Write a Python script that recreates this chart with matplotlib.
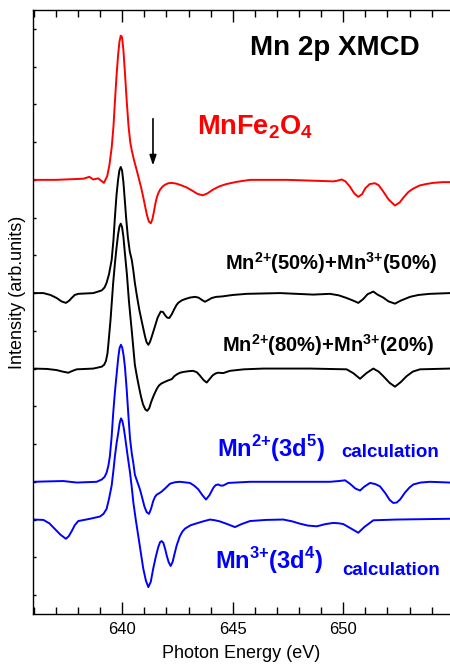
import matplotlib
matplotlib.use('Agg')
import matplotlib.pyplot as plt
from matplotlib.ticker import MultipleLocator

plt.rcParams['font.family'] = ['Liberation Sans', 'DejaVu Sans']
plt.rcParams['mathtext.fontset'] = 'custom'
plt.rcParams['mathtext.rm'] = 'Liberation Sans'
plt.rcParams['mathtext.bf'] = 'Liberation Sans:bold'

# (photon energy eV, intensity relative to own baseline)

# MnFe2O4 measured XMCD (red)
mnfe2o4 = [
    (635.97, 0.0), (637.0, 0.0), (638.24, 0.03), (638.51, 0.08), (638.69, 0.01),
    (638.91, 0.04), (639.17, -0.08), (639.32, 0.1), (639.42, 0.4), (639.52, 0.85),
    (639.60, 1.4), (639.67, 2.1), (639.74, 2.75), (639.81, 3.3), (639.87, 3.65),
    (639.93, 3.82), (639.99, 3.78), (640.05, 3.45), (640.12, 2.85), (640.20, 2.1),
    (640.28, 1.45), (640.36, 1.0), (640.43, 0.78), (640.52, 0.55), (640.62, 0.33),
    (640.70, 0.15), (640.77, -0.01), (640.86, -0.22), (640.95, -0.46), (641.04, -0.72),
    (641.12, -0.94), (641.20, -1.1), (641.29, -1.15), (641.36, -1.05), (641.43, -0.85),
    (641.50, -0.62), (641.57, -0.45), (641.64, -0.34), (641.71, -0.26), (641.82, -0.18),
    (641.93, -0.13), (642.08, -0.09), (642.24, -0.08), (642.45, -0.1), (642.70, -0.15),
    (642.91, -0.2), (643.15, -0.28), (643.40, -0.37), (643.64, -0.41), (643.85, -0.36),
    (644.10, -0.26), (644.40, -0.17), (644.72, -0.11), (645.20, -0.05), (645.78, 0.0),
    (647.50, 0.0), (649.55, -0.04), (649.75, -0.02), (649.93, 0.01), (650.10, -0.04),
    (650.30, -0.18), (650.50, -0.36), (650.68, -0.45), (650.85, -0.38), (651.00, -0.22),
    (651.20, -0.11), (651.43, -0.09), (651.60, -0.14), (651.80, -0.3), (652.05, -0.52),
    (652.34, -0.68), (652.55, -0.6), (652.75, -0.45), (652.95, -0.32), (653.17, -0.23),
    (653.45, -0.15), (653.75, -0.11), (654.07, -0.08), (654.50, -0.06), (654.83, -0.06),
]

# Mn2+(50%)+Mn3+(50%)
mix50 = [
    (635.97, 0.0), (636.43, 0.0), (636.75, -0.05), (637.03, -0.13), (637.25, -0.22),
    (637.45, -0.26), (637.60, -0.2), (637.71, -0.13), (637.85, -0.05), (638.01, -0.02),
    (638.69, 0.0), (639.07, 0.07), (639.20, 0.15), (639.29, 0.27), (639.40, 0.5),
    (639.52, 0.88), (639.60, 1.4), (639.67, 2.03), (639.74, 2.6), (639.81, 3.0),
    (639.87, 3.25), (639.93, 3.34), (639.99, 3.25), (640.05, 2.95), (640.11, 2.5),
    (640.17, 2.03), (640.25, 1.5), (640.34, 1.1), (640.43, 0.88), (640.50, 0.6),
    (640.57, 0.27), (640.67, -0.1), (640.77, -0.44), (640.90, -0.8), (641.03, -1.15),
    (641.10, -1.3), (641.18, -1.37), (641.25, -1.3), (641.32, -1.18), (641.40, -1.03),
    (641.48, -0.88), (641.60, -0.65), (641.74, -0.49), (641.84, -0.5), (641.93, -0.58),
    (642.03, -0.65), (642.13, -0.66), (642.24, -0.56), (642.34, -0.44), (642.45, -0.32),
    (642.53, -0.26), (642.70, -0.19), (642.84, -0.16), (643.05, -0.12), (643.29, -0.1),
    (643.45, -0.12), (643.60, -0.18), (643.74, -0.23), (643.90, -0.18), (644.05, -0.13),
    (644.25, -0.1), (644.50, -0.09), (645.00, -0.05), (645.63, -0.02), (647.14, 0.0),
    (648.64, -0.04), (649.40, -0.02), (649.80, -0.06), (650.15, -0.13), (650.45, -0.2),
    (650.68, -0.26), (650.90, -0.16), (651.10, -0.03), (651.36, 0.04), (651.55, -0.04),
    (651.81, -0.12), (652.05, -0.22), (652.34, -0.28), (652.60, -0.2), (653.02, -0.1),
    (653.40, -0.05), (653.92, -0.02), (654.83, 0.0),
]

# Mn2+(80%)+Mn3+(20%)
mix80 = [
    (635.97, 0.0), (636.60, -0.01), (637.03, -0.04), (637.30, -0.08), (637.56, -0.11),
    (637.75, -0.06), (637.94, -0.02), (638.69, 0.0), (639.07, 0.05), (639.18, 0.1),
    (639.26, 0.2), (639.33, 0.4), (639.38, 0.7), (639.47, 1.3), (639.59, 2.28),
    (639.67, 2.8), (639.74, 3.2), (639.81, 3.55), (639.87, 3.76), (639.93, 3.84),
    (639.99, 3.75), (640.05, 3.5), (640.12, 3.05), (640.21, 2.5), (640.30, 1.8),
    (640.38, 1.3), (640.43, 1.0), (640.50, 0.55), (640.57, 0.1), (640.66, -0.2),
    (640.76, -0.5), (640.85, -0.75), (640.94, -0.95), (641.04, -1.08), (641.13, -1.12),
    (641.22, -1.05), (641.30, -0.9), (641.39, -0.76), (641.48, -0.64), (641.57, -0.53),
    (641.66, -0.45), (641.76, -0.4), (641.86, -0.37), (642.05, -0.32), (642.24, -0.28),
    (642.36, -0.2), (642.48, -0.15), (642.62, -0.11), (642.76, -0.09), (643.00, -0.07),
    (643.21, -0.06), (643.38, -0.1), (643.52, -0.19), (643.67, -0.3), (643.82, -0.37),
    (643.95, -0.28), (644.09, -0.18), (644.22, -0.13), (644.34, -0.11), (644.57, -0.12),
    (644.87, -0.06), (645.50, -0.02), (646.38, 0.0), (648.50, 0.0), (650.15, -0.02),
    (650.45, -0.12), (650.76, -0.27), (651.05, -0.12), (651.36, 0.0), (651.60, -0.08),
    (651.81, -0.2), (652.10, -0.38), (652.34, -0.48), (652.60, -0.36), (652.87, -0.2),
    (653.15, -0.08), (653.47, -0.02), (654.83, 0.0),
]

# Mn2+(3d5) calculation
mn2_calc = [
    (635.97, 0.0), (636.60, 0.01), (637.33, 0.02), (637.94, -0.02), (638.84, 0.0),
    (639.07, 0.06), (639.20, 0.13), (639.29, 0.24), (639.37, 0.42), (639.44, 0.68),
    (639.52, 1.2), (639.59, 1.82), (639.67, 2.4), (639.75, 2.88), (639.82, 3.3),
    (639.88, 3.55), (639.94, 3.63), (640.00, 3.55), (640.06, 3.35), (640.12, 3.05),
    (640.20, 2.45), (640.27, 1.82), (640.35, 1.15), (640.43, 0.75), (640.50, 0.5),
    (640.57, 0.19), (640.68, 0.0), (640.80, -0.2), (640.90, -0.42), (641.00, -0.65),
    (641.10, -0.8), (641.21, -0.85), (641.30, -0.72), (641.40, -0.51), (641.48, -0.4),
    (641.56, -0.34), (641.68, -0.3), (641.78, -0.26), (641.95, -0.17), (642.16, -0.05),
    (642.40, -0.01), (642.61, 0.0), (643.06, -0.03), (643.25, -0.1), (643.44, -0.2),
    (643.62, -0.35), (643.79, -0.47), (643.95, -0.35), (644.12, -0.16), (644.22, -0.09),
    (644.34, -0.07), (644.45, -0.1), (644.56, -0.1), (644.80, -0.03), (645.78, 0.0),
    (649.40, 0.0), (649.80, 0.02), (650.08, 0.04), (650.30, -0.05), (650.55, -0.18),
    (650.76, -0.23), (650.95, -0.13), (651.21, -0.03), (651.45, -0.06), (651.66, -0.12),
    (651.90, -0.3), (652.10, -0.48), (652.26, -0.56), (652.42, -0.55), (652.57, -0.47),
    (652.80, -0.28), (653.00, -0.15), (653.17, -0.07), (653.50, -0.02), (653.92, 0.0),
    (654.83, -0.02),
]

# Mn3+(3d4) calculation
mn3_calc = [
    (635.97, 0.0), (636.43, -0.01), (636.70, -0.1), (636.95, -0.25), (637.20, -0.4),
    (637.45, -0.51), (637.58, -0.44), (637.71, -0.31), (637.85, -0.15), (638.01, -0.04),
    (638.54, 0.02), (638.99, 0.08), (639.15, 0.15), (639.29, 0.28), (639.40, 0.55),
    (639.52, 0.9), (639.60, 1.3), (639.67, 1.69), (639.75, 2.05), (639.82, 2.3),
    (639.88, 2.55), (639.94, 2.68), (640.00, 2.62), (640.06, 2.45), (640.12, 2.22),
    (640.24, 1.7), (640.35, 1.25), (640.43, 0.85), (640.50, 0.46), (640.61, 0.0),
    (640.72, -0.42), (640.84, -0.88), (640.95, -1.3), (641.07, -1.62), (641.18, -1.79),
    (641.29, -1.65), (641.40, -1.3), (641.52, -0.98), (641.63, -0.73), (641.71, -0.6),
    (641.78, -0.57), (641.86, -0.62), (641.94, -0.78), (642.01, -0.95), (642.10, -1.13),
    (642.19, -1.23), (642.28, -1.12), (642.37, -0.9), (642.46, -0.69), (642.60, -0.45),
    (642.72, -0.32), (642.84, -0.24), (643.10, -0.15), (643.37, -0.1), (643.65, -0.05),
    (643.97, 0.0), (644.20, -0.02), (644.42, -0.05), (644.75, -0.12), (645.10, -0.2),
    (645.40, -0.12), (645.78, -0.04), (646.50, -0.01), (647.29, 0.0), (647.70, -0.05),
    (648.04, -0.11), (648.40, -0.16), (648.80, -0.18), (649.20, -0.12), (649.55, -0.09),
    (649.80, -0.1), (650.00, -0.12), (650.30, -0.22), (650.68, -0.35), (650.95, -0.2),
    (651.36, -0.02), (652.42, 0.0), (654.83, 0.02),
]

# vertical stacking of the spectra
offsets = [11, 8, 6, 3, 2]
colors = ['#ff0000', 'black', 'black', '#0000ff', '#0000ff']

fig = plt.figure(figsize=(4.5, 6.68), dpi=100)
ax = fig.add_axes([0.0733, 0.081, 0.9267, 0.904])

for curve, off, c in zip([mnfe2o4, mix50, mix80, mn2_calc, mn3_calc], offsets, colors):
    e, i = zip(*curve)
    ax.plot(e, [v + off for v in i], color=c, lw=1.4, solid_joinstyle='round')

ax.set_xlim(635.96, 654.83)
ax.set_ylim(-0.5, 15.5)
ax.xaxis.set_major_locator(MultipleLocator(5))
ax.xaxis.set_minor_locator(MultipleLocator(1))
ax.set_yticks(range(16))
ax.set_yticklabels([])
ax.tick_params(axis='x', which='major', direction='in', length=8.5, width=1,
               top=True, labelsize=12, pad=6)
ax.tick_params(axis='x', which='minor', direction='in', length=5, width=1, top=True)
ax.tick_params(axis='y', which='major', direction='in', length=2.5, width=1)
ax.spines['right'].set_visible(False)
for s in ['left', 'bottom', 'top']:
    ax.spines[s].set_linewidth(1.0)

ax.set_xlabel('Photon Energy (eV)', fontsize=13)
ax.xaxis.set_label_coords(0.5, -0.052)
ax.set_ylabel('Intensity (arb.units)', fontsize=13)
ax.yaxis.set_label_coords(-0.017, 0.533)

# labels
ax.text(645.78, 14.31, 'Mn 2p XMCD', fontsize=20, fontweight='bold', color='black')
ax.text(643.38, 12.19, r'MnFe$_\mathbf{2}$O$_\mathbf{4}$', fontsize=19.5,
        fontweight='bold', color='#ff0000')
ax.text(644.65, 8.61, r'Mn$^{\mathbf{2{+}}}$(50%)+Mn$^{\mathbf{3{+}}}$(50%)',
        fontsize=14.5, fontweight='bold', color='black')
ax.text(644.51, 6.45, r'Mn$^{\mathbf{2{+}}}$(80%)+Mn$^{\mathbf{3{+}}}$(20%)',
        fontsize=14.5, fontweight='bold', color='black')
ax.text(644.29, 3.67, r'Mn$^{\mathbf{2{+}}}$(3d$^\mathbf{5}$)', fontsize=17,
        fontweight='bold', color='#0000ff')
ax.text(649.93, 3.65, 'calculation', fontsize=13.5, fontweight='bold', color='#0000ff')
ax.text(644.19, 0.68, r'Mn$^{\mathbf{3{+}}}$(3d$^\mathbf{4}$)', fontsize=17,
        fontweight='bold', color='#0000ff')
ax.text(649.97, 0.53, 'calculation', fontsize=13.5, fontweight='bold', color='#0000ff')

ax.annotate('', xy=(641.39, 11.38), xytext=(641.39, 12.62),
            arrowprops=dict(arrowstyle='-|>,head_length=0.6,head_width=0.2',
                            color='black', lw=1.2, shrinkA=0, shrinkB=0))

fig.savefig('out.png', dpi=100)
